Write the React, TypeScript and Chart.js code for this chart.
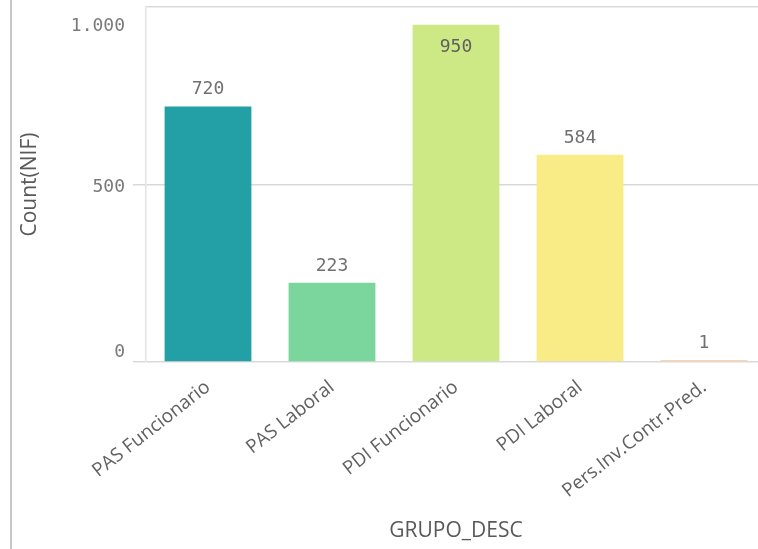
import React, { useEffect, useRef } from 'react';
import { Chart, registerables } from 'chart.js';

Chart.register(...registerables);

const categories = ['PAS Funcionario', 'PAS Laboral', 'PDI Funcionario', 'PDI Laboral', 'Pers.Inv.Contr.Pred.'];
const counts = [720, 223, 950, 584, 1];
const barColors = ['#23a0a6', '#7bd69e', '#cde986', '#f9eb85', '#f9d3b5'];
const yTickValues = [0, 500, 1000];
const yTickLabels = ['0', '500', '1.000'];
const yTitle = 'Count(NIF)';
const xTitle = 'GRUPO_DESC';

const labelPlugin = {
  id: 'qlikLabels',
  afterDraw(chart: any) {
    const ctx = chart.ctx;
    const area = chart.chartArea;
    const y = chart.scales.y;
    ctx.save();
    ctx.font = '18px "DejaVu Sans Mono"';
    ctx.fillStyle = '#7a7a7a';
    ctx.textAlign = 'right';
    ctx.textBaseline = 'alphabetic';
    yTickValues.forEach((v, i) => {
      const py = y.getPixelForValue(v);
      const off = v === y.max ? 24 : v === y.min ? -5 : 7;
      ctx.fillText(yTickLabels[i], y.right - 21, py + off);
    });
    const meta = chart.getDatasetMeta(0);
    ctx.textAlign = 'center';
    meta.data.forEach((bar: any, i: number) => {
      const top = bar.y;
      const inside = top - area.top < 30;
      ctx.fillStyle = inside ? '#606060' : '#707070';
      ctx.fillText(String(counts[i]), bar.x, inside ? top + 27 : top - 12);
    });
    ctx.restore();
  },
};

export default function App() {
  const ref = useRef<HTMLCanvasElement | null>(null);

  useEffect(() => {
    if (!ref.current) return;
    const chart = new Chart(ref.current, {
      type: 'bar',
      data: {
        labels: categories,
        datasets: [
          {
            data: counts,
            backgroundColor: barColors,
            borderWidth: 0,
            barPercentage: 0.7,
            categoryPercentage: 1,
            minBarLength: 2,
          },
        ],
      },
      options: {
        animation: false,
        responsive: false,
        layout: { padding: { top: 7, left: 0, right: 0, bottom: 0 } },
        plugins: { legend: { display: false }, tooltip: { enabled: false } },
        scales: {
          x: {
            offset: true,
            grid: { display: false },
            border: { display: false },
            ticks: {
              autoSkip: false,
              maxRotation: 38,
              minRotation: 38,
              color: '#616161',
              font: { family: 'Open Sans', size: 19 },
              padding: 6,
            },
            title: {
              display: true,
              text: xTitle,
              color: '#595959',
              font: { family: 'Open Sans', size: 21 },
              padding: { top: 0, bottom: 5 },
            },
            afterFit: (s: any) => {
              s.height = 187;
            },
          },
          y: {
            min: 0,
            max: 1000,
            ticks: { display: false, stepSize: 500 },
            grid: {
              color: '#d9d9d9',
              lineWidth: 1.5,
              tickLength: 13,
              tickColor: (c: any) => (c.tick && c.tick.value === 1000 ? 'rgba(0,0,0,0)' : '#d9d9d9'),
            },
            border: { display: true, color: '#e3e3e3', width: 1.5 },
            title: {
              display: true,
              text: yTitle,
              color: '#595959',
              font: { family: 'Open Sans', size: 21 },
              padding: { top: 17, bottom: 0 },
            },
            afterFit: (s: any) => {
              s.width = 146;
            },
          },
        },
      },
      plugins: [labelPlugin],
    });
    return () => chart.destroy();
  }, []);

  return (
    <div
      style={{
        position: 'fixed',
        left: 0,
        top: 0,
        width: 758,
        height: 549,
        overflow: 'hidden',
        background: '#ffffff',
      }}
    >
      <div style={{ position: 'absolute', left: 10, top: 0, width: 1.5, height: 549, background: '#c8c8c8' }} />
      <canvas ref={ref} width={766} height={549} style={{ position: 'absolute', left: 0, top: 0, display: 'block' }} />
    </div>
  );
}
